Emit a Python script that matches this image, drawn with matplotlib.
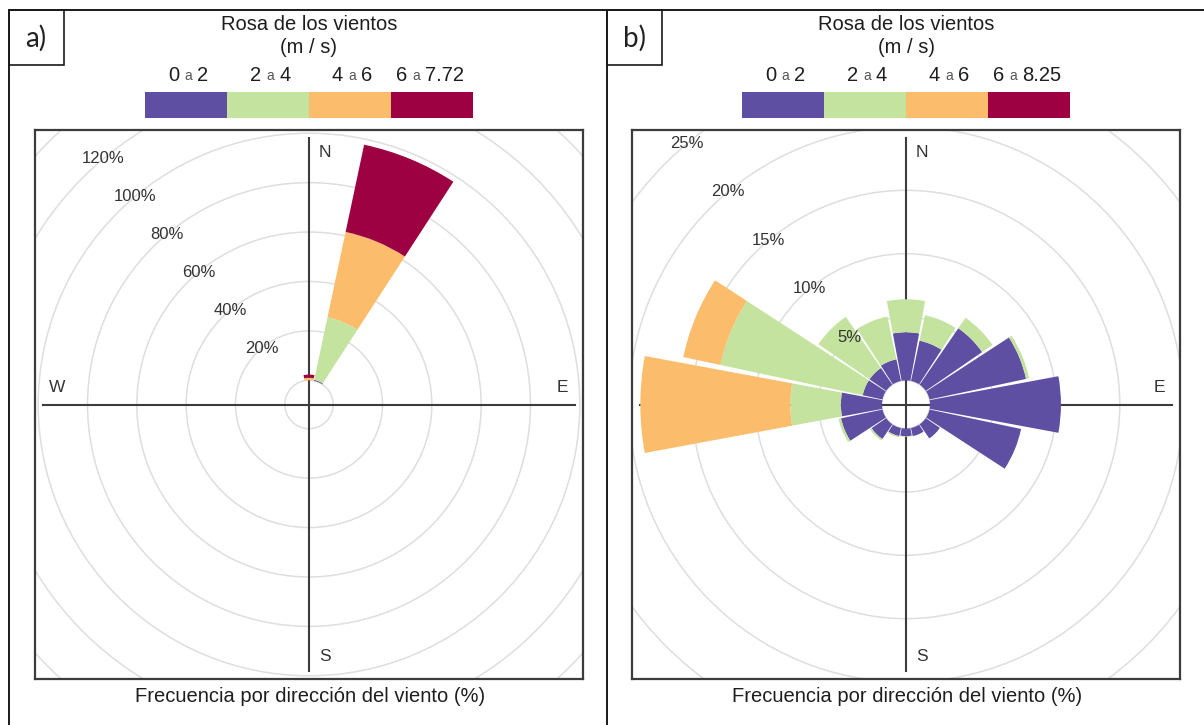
import numpy as np
import matplotlib.pyplot as plt
from matplotlib.patches import Wedge, Circle, Rectangle

plt.rcParams['font.family'] = ['Liberation Sans', 'DejaVu Sans']

W, H = 1204, 725

# 16 compass sectors, clockwise from north
directions = ["N", "NNE", "NE", "ENE", "E", "ESE", "SE", "SSE",
              "S", "SSW", "SW", "WSW", "W", "WNW", "NW", "NNW"]
bearings = np.arange(16) * 22.5

colors = ["#5E4FA2", "#C3E39F", "#FBBD6B", "#9E0142"]
bin_lo = ["0", "2", "4", "6"]
bin_hi_a = ["2", "4", "6", "7.72"]
bin_hi_b = ["2", "4", "6", "8.25"]

# panel a) frequency (%) per sector and speed bin
a_0_2 = [0, 0.4, 0, 0, 0, 0, 0, 0, 0, 0, 0, 0, 0, 0, 0, 0]
a_2_4 = [0, 25.9, 0, 0, 0, 0, 0, 0, 0, 0, 0, 0, 0, 0, 0, 0]
a_4_6 = [1.0, 35.3, 0, 0, 0, 0, 0, 0, 0, 0, 0, 0, 0, 0, 0, 0]
a_6_max = [1.3, 36.1, 0, 0, 0, 0, 0, 0, 0, 0, 0, 0, 0, 0, 0, 0]

# panel b)
b_0_2 = [3.8, 3.25, 5.4, 7.8, 10.35, 7.4, 1.35, 0.65,
         0.6, 0.65, 1.4, 3.35, 3.25, 1.6, 1.6, 1.75]
b_2_4 = [2.6, 2.05, 1.0, 0.25, 0, 0, 0, 0,
         0.05, 0.1, 0.15, 0.2, 4.0, 11.5, 4.9, 3.45]
b_4_6 = [0, 0, 0, 0, 0, 0, 0, 0, 0, 0, 0, 0, 11.85, 3.0, 0, 0]
b_6_max = [0] * 16

fig = plt.figure(figsize=(W / 100, H / 100), dpi=100)
bg = fig.add_axes([0, 0, 1, 1])
bg.set_xlim(0, W)
bg.set_ylim(H, 0)
bg.axis('off')

frame = dict(color='#1a1a1a', lw=1.4)
bg.plot([8.5, 8.5], [9.5, H], **frame)
bg.plot([8.5, W], [9.5, 9.5], **frame)
bg.plot([607, 607], [9.5, H], **frame)


def draw_panel(tag, tag_x, cx, bins, hi, off, half, step, labels):
    # tag box
    bg.add_patch(Rectangle((tag_x, 9.5), 55, 55.5, fill=False, ec='#1a1a1a', lw=1.2))
    bg.text(tag_x + 27.5, 38, tag, family=['Lato', 'DejaVu Sans'], fontsize=20,
            ha='center', va='center', color='#222222')

    # legend
    bg.text(cx, 24, "Rosa de los vientos", fontsize=14.5, ha='center', va='center', color='#1e1e1e')
    bg.text(cx, 47, "(m / s)", fontsize=14.5, ha='center', va='center', color='#1e1e1e')
    for j in range(4):
        x0 = cx - 164 + j * 82
        bg.add_patch(Rectangle((x0, 92), 82, 26, fc=colors[j], ec='none'))
        ax_ = x0 + 43 - 6 * (len(hi[j]) - len(bin_lo[j]))
        bg.text(ax_ - 9, 75, bin_lo[j], fontsize=14.5, ha='right', va='center', color='#1e1e1e')
        bg.text(ax_, 76, "a", fontsize=10, ha='center', va='center', color='#555555')
        bg.text(ax_ + 9, 75, hi[j], fontsize=14.5, ha='left', va='center', color='#1e1e1e')

    bg.text(cx + 1, 697, "Frecuencia por dirección del viento (%)", fontsize=14.5,
            ha='center', va='center', color='#1e1e1e')

    # rose
    ax = fig.add_axes([(cx - 274) / W, 1 - 679 / H, 548 / W, 549 / H])
    ax.set_xlim(-half, half)
    ax.set_ylim(-half, half)
    ax.set_xticks([])
    ax.set_yticks([])
    for s in ax.spines.values():
        s.set_color('#3c3c3c')
        s.set_linewidth(1.6)

    v = 0
    while off + v < half * 1.5:
        ax.add_patch(Circle((0, 0), off + v, fill=False, ec='#dedede', lw=1.1, zorder=1))
        v += step
    L = half * 0.97
    ax.plot([0, 0], [-L, L], color='#3c3c3c', lw=1.5, zorder=2)
    ax.plot([-L, L], [0, 0], color='#3c3c3c', lw=1.5, zorder=2)

    for i, b in enumerate(bearings):
        r = off
        for j in range(4):
            val = bins[j][i]
            if val <= 0:
                continue
            ax.add_patch(Wedge((0, 0), r + val, 90 - b - 10.5, 90 - b + 10.5,
                               width=val, fc=colors[j], ec='none', zorder=3))
            r += val

    ang = np.deg2rad(40)
    for val in labels:
        rr = off + val
        ax.text(-rr * np.sin(ang), rr * np.cos(ang), f"{val}%", fontsize=12,
                ha='center', va='center', color='#333333', zorder=4)

    tx = dict(transform=ax.transAxes, fontsize=12.5, ha='center', va='center',
              color='#333333', zorder=2.5)
    ax.text(0.5 + 16 / 548, 0.5 + 252 / 549, "N", **tx)
    ax.text(0.5 + 16 / 548, 0.5 - 252 / 549, "S", **tx)
    ax.text(0.5 + 253 / 548, 0.5 + 17 / 549, "E", **tx)
    ax.text(0.5 - 252 / 548, 0.5 + 17 / 549, "W", **tx)


draw_panel("a)", 8.5, 309, [a_0_2, a_2_4, a_4_6, a_6_max], bin_hi_a,
           off=9.8, half=111.1, step=20, labels=[20, 40, 60, 80, 100, 120])
draw_panel("b)", 607, 906, [b_0_2, b_2_4, b_4_6, b_6_max], bin_hi_b,
           off=1.9, half=21.66, step=5, labels=[5, 10, 15, 20, 25])

fig.savefig("out.png", dpi=100, facecolor='white')
